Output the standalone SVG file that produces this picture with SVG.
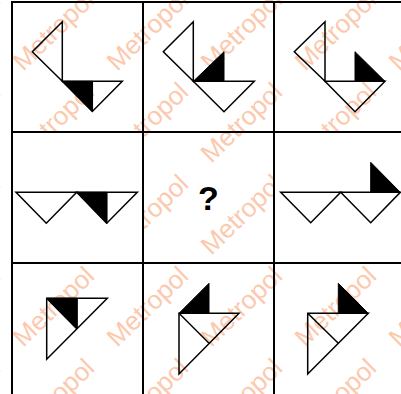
<svg xmlns="http://www.w3.org/2000/svg" width="401" height="394" viewBox="0 0 401 394">
<style>
.wm{font-family:"Liberation Sans",Arial,sans-serif;font-size:26px;fill:#fcc9ae;text-anchor:middle}
.sh{fill:none;stroke:#000;stroke-width:1.5;stroke-linejoin:miter}
.bk{fill:#000;stroke:#000;stroke-width:1}
.grid{stroke:#000;stroke-width:2;fill:none}
.q{font-family:"Liberation Sans",Arial,sans-serif;font-size:34px;font-weight:bold;fill:#000;text-anchor:middle}
</style>
<defs>
<text id="w" class="wm" x="0" y="8">Metropol</text>
</defs>
<rect width="401" height="394" fill="#fff"/>
<g id="watermark">
<use href="#w" transform="translate(-40,31) rotate(-44)"/>
<use href="#w" transform="translate(54,31) rotate(-44)"/>
<use href="#w" transform="translate(148,31) rotate(-44)"/>
<use href="#w" transform="translate(242,31) rotate(-44)"/>
<use href="#w" transform="translate(336,31) rotate(-44)"/>
<use href="#w" transform="translate(430,31) rotate(-44)"/>
<use href="#w" transform="translate(-40,123) rotate(-44)"/>
<use href="#w" transform="translate(54,123) rotate(-44)"/>
<use href="#w" transform="translate(148,123) rotate(-44)"/>
<use href="#w" transform="translate(242,123) rotate(-44)"/>
<use href="#w" transform="translate(336,123) rotate(-44)"/>
<use href="#w" transform="translate(430,123) rotate(-44)"/>
<use href="#w" transform="translate(-40,215) rotate(-44)"/>
<use href="#w" transform="translate(54,215) rotate(-44)"/>
<use href="#w" transform="translate(148,215) rotate(-44)"/>
<use href="#w" transform="translate(242,215) rotate(-44)"/>
<use href="#w" transform="translate(336,215) rotate(-44)"/>
<use href="#w" transform="translate(430,215) rotate(-44)"/>
<use href="#w" transform="translate(-40,307) rotate(-44)"/>
<use href="#w" transform="translate(54,307) rotate(-44)"/>
<use href="#w" transform="translate(148,307) rotate(-44)"/>
<use href="#w" transform="translate(242,307) rotate(-44)"/>
<use href="#w" transform="translate(336,307) rotate(-44)"/>
<use href="#w" transform="translate(430,307) rotate(-44)"/>
<use href="#w" transform="translate(-40,399) rotate(-44)"/>
<use href="#w" transform="translate(54,399) rotate(-44)"/>
<use href="#w" transform="translate(148,399) rotate(-44)"/>
<use href="#w" transform="translate(242,399) rotate(-44)"/>
<use href="#w" transform="translate(336,399) rotate(-44)"/>
<use href="#w" transform="translate(430,399) rotate(-44)"/>
</g>
<rect x="12" y="132" width="131" height="131" fill="#fff"/>
<rect x="274" y="132" width="127" height="131" fill="#fff"/>
<g id="cell1">
<polygon class="bk" points="62.3,81.3 92.3,81.3 92.3,111.5"/>
<polygon class="sh" points="62.3,21.8 32.3,51.7 62.3,81.3"/>
<polygon class="sh" points="62.3,81.3 122.3,81.3 92.3,111.5"/>
<line class="sh" x1="92.3" y1="81.3" x2="92.3" y2="111.5"/>
</g>
<g id="cell2">
<polygon class="bk" points="193.3,81.3 224,51.7 224,81.3"/>
<polygon class="sh" points="193.3,21.8 163.3,51.7 193.3,81.3"/>
<polygon class="sh" points="193.3,81.3 254.3,81.3 224,111.7"/>
</g>
<g id="cell3">
<polygon class="bk" points="355,51.7 355,81.3 385,81.3"/>
<polygon class="sh" points="325,21.8 294.3,51.7 325,81.3"/>
<polygon class="sh" points="325,81.3 385,81.3 355,111.7"/>
</g>
<g id="cell4">
<polygon class="bk" points="76.7,192.3 106.7,192.3 106.7,223.3"/>
<polygon class="sh" points="16,192.3 76.7,192.3 46.3,223.3"/>
<polygon class="sh" points="76.7,192.3 137.3,192.3 106.7,223.3"/>
<line class="sh" x1="106.7" y1="192.3" x2="106.7" y2="223.3"/>
</g>
<g id="cell5">
<text class="q" x="208.5" y="210">?</text>
</g>
<g id="cell6">
<polygon class="bk" points="370.7,162.3 370.7,192.3 400.3,192.3"/>
<polygon class="sh" points="280.7,192.3 340.7,192.3 310.7,222.7"/>
<polygon class="sh" points="340.7,192.3 400.3,192.3 370.7,222.7"/>
</g>
<g id="cell7">
<polygon class="bk" points="46.7,298.3 77,298.3 77,329"/>
<polygon class="sh" points="46.7,298.3 107.3,298.3 46.7,359.3"/>
<line class="sh" x1="46.7" y1="298.3" x2="77" y2="329"/>
<line class="sh" x1="77" y1="298.3" x2="77" y2="329"/>
</g>
<g id="cell8">
<polygon class="bk" points="179,313.3 209,283.3 209,313.3"/>
<polygon class="sh" points="179,313.3 239,313.3 179,374"/>
<line class="sh" x1="179" y1="313.3" x2="209" y2="343.3"/>
</g>
<g id="cell9">
<polygon class="bk" points="338.3,283.3 338.3,313.3 368.3,313.3"/>
<polygon class="sh" points="307.7,313.3 368.3,313.3 307.7,374"/>
<line class="sh" x1="307.7" y1="313.3" x2="338.3" y2="343.3"/>
</g>
<g id="connectors">
<line class="grid" x1="12" y1="2" x2="401" y2="2"/>
<line class="grid" x1="12" y1="132" x2="401" y2="132"/>
<line class="grid" x1="12" y1="263" x2="401" y2="263"/>
<line class="grid" x1="12" y1="1" x2="12" y2="394"/>
<line class="grid" x1="143" y1="1" x2="143" y2="394"/>
<line class="grid" x1="274" y1="1" x2="274" y2="394"/>
</g>
</svg>
